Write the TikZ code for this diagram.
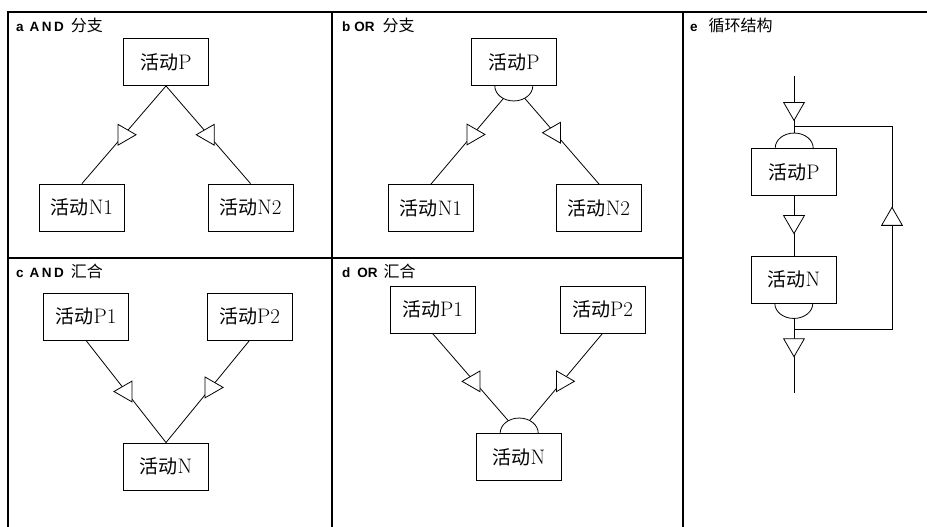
\documentclass[tikz,border=0pt]{standalone}
\usepackage{fontspec}
\newfontfamily\cjk{Noto Sans CJK SC}
\newfontfamily\labfont{Liberation Sans}
\usetikzlibrary{shapes.geometric, positioning}
\tikzset{
  act/.style={draw, line width=0.9pt, minimum width=85pt, minimum height=47pt, inner sep=0pt, font=\fontsize{21}{24}\selectfont},
  tri/.style={draw, line width=0.8pt, fill=white, regular polygon, regular polygon sides=3, minimum size=24pt, inner sep=0pt},
  trir/.style={tri, shape border rotate=-90},
  tril/.style={tri, shape border rotate=90},
  trid/.style={tri, shape border rotate=180},
  triu/.style={tri},
  cup/.style={ellipse, minimum width=38pt, minimum height=30pt, inner sep=0pt},
  link/.style={line width=0.8pt},
  frame/.style={line width=1.3pt},
  ptitle/.style={anchor=north west, inner sep=0pt, font=\labfont\bfseries\fontsize{13.5}{16}\selectfont}
}
\newcommand{\act}[1]{{\cjk\fontsize{19}{22}\selectfont 活动}#1}
\newcommand{\zh}[1]{{\cjk\mdseries\fontsize{16}{18}\selectfont #1}}
\newcommand{\wide}[1]{{\addfontfeature{LetterSpace=18}#1}}
\begin{document}
\begin{tikzpicture}[x=1pt, y=1pt]
  \useasboundingbox (0,0) rectangle (927,-527);
  % frame
  \draw[frame] (8,-527) -- (8,-12) -- (927,-12);
  \draw[frame] (332,-12) -- (332,-527);
  \draw[frame] (683,-12) -- (683,-527);
  \draw[frame] (8,-258) -- (683,-258);
  \node[ptitle] (ta) at (16,-18) {a\hspace{6pt}\wide{AND}\hspace{7pt}\zh{分支}};
  \node[ptitle] (tb) at (342,-18) {b\hspace{4pt}OR\hspace{8pt}\zh{分支}};
  \node[ptitle] (tc) at (16,-264) {c\hspace{6pt}\wide{AND}\hspace{7pt}\zh{汇合}};
  \node[ptitle] (td) at (342,-264) {d\hspace{7pt}OR\hspace{6pt}\zh{汇合}};
  \node[ptitle] (te) at (690,-18) {e\hspace{11pt}\zh{循环结构}};

  % a AND split
  \node[act] (aP) at (166,-62) {\act{P}};
  \node[act] (aN1) at (82,-207.5) {\act{N1}};
  \node[act] (aN2) at (250.5,-207.5) {\act{N2}};
  \draw[link] (aP.south) -- node[trir] {} (aN1.north);
  \draw[link] (aP.south) -- node[tril] {} (aN2.north);

  % b OR split
  \node[act] (bP) at (514,-62) {\act{P}};
  \node[cup] (bor) at (bP.south) {};
  \draw[link] (bor.west) arc[start angle=180, end angle=360, x radius=19pt, y radius=15pt];
  \node[act] (bN1) at (431,-208) {\act{N1}};
  \node[act] (bN2) at (599,-208) {\act{N2}};
  \draw[link] (bor) -- node[trir, pos=0.42] {} (bN1.north);
  \draw[link] (bor) -- node[tril, pos=0.4] {} (bN2.north);

  % c AND join
  \node[act] (cP1) at (86,-316.5) {\act{P1}};
  \node[act] (cP2) at (249.5,-316.5) {\act{P2}};
  \node[act] (cN) at (166,-466.5) {\act{N}};
  \draw[link] (cP1.south) -- node[tril] {} (cN.north);
  \draw[link] (cP2.south) -- node[trir, pos=0.46] {} (cN.north);

  % d OR join
  \node[act] (dP1) at (432.5,-309.5) {\act{P1}};
  \node[act] (dP2) at (602.5,-309.5) {\act{P2}};
  \node[act] (dN) at (519,-457) {\act{N}};
  \node[cup] (dor) at (dN.north) {};
  \draw[link] (dor.east) arc[start angle=0, end angle=180, x radius=19pt, y radius=15pt];
  \draw[link] (dP1.south) -- node[tril, pos=0.55] {} (dor);
  \draw[link] (dP2.south) -- node[trir, pos=0.55] {} (dor);

  % e loop
  \node[act] (eP) at (794,-172) {\act{P}};
  \node[act] (eN) at (794,-279.5) {\act{N}};
  \node[cup] (eor) at (eP.north) {};
  \node[cup] (eand) at (eN.south) {};
  \draw[link] (eor.east) arc[start angle=0, end angle=180, x radius=19pt, y radius=15pt];
  \draw[link] (eand.west) arc[start angle=180, end angle=360, x radius=19pt, y radius=15pt];
  \coordinate (ein) at (794,-76);
  \coordinate (esplit) at (794,-126);
  \coordinate (eup) at (892,-126);
  \coordinate (eback) at (892,-329);
  \coordinate (ejoin) at (794,-329);
  \coordinate (eout) at (794,-393);
  \draw[link] (ein) -- node[trid, pos=0.57] {} (eor.north);
  \draw[link] (eP) -- node[trid, pos=0.43] {} (eN);
  \draw[link] (eand.south) -- node[trid, pos=0.35] {} (eout);
  \draw[link] (ejoin) -- (eback) -- node[triu, pos=0.54] {} (eup) -- (esplit);
\end{tikzpicture}
\end{document}
